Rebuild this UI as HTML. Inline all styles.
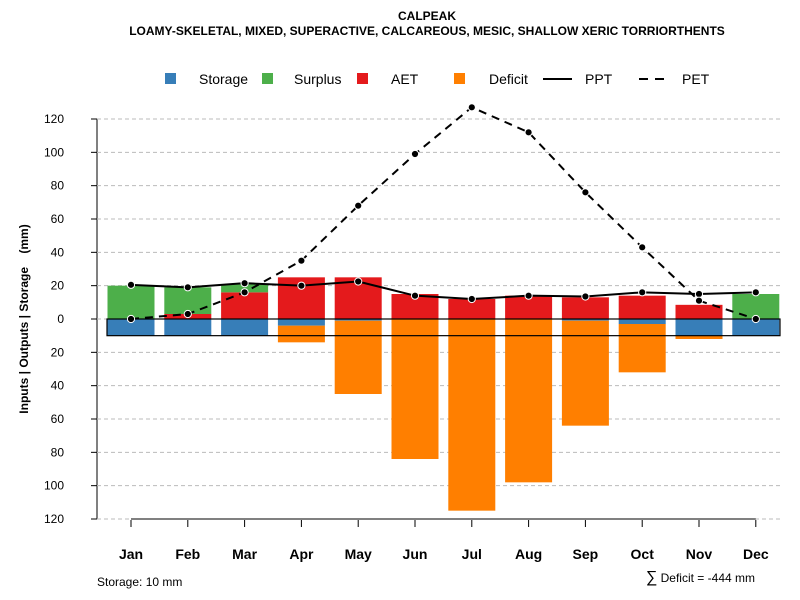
<!DOCTYPE html>
<html><head><meta charset="utf-8"><style>
body{margin:0;background:#fff}
svg{display:block;font-family:"Liberation Sans",Arial,sans-serif}
</style></head><body>
<svg id="c" width="800" height="600" viewBox="0 0 800 600">
<text x="427" y="20" text-anchor="middle" font-size="12" font-weight="bold">CALPEAK</text>
<text x="427" y="35" text-anchor="middle" font-size="12" font-weight="bold">LOAMY-SKELETAL, MIXED, SUPERACTIVE, CALCAREOUS, MESIC, SHALLOW XERIC TORRIORTHENTS</text>
<g id="legend" font-size="14">
<rect x="165" y="73" width="11" height="11" fill="#377EB8"/>
<text x="199" y="84">Storage</text>
<rect x="262" y="73" width="11" height="11" fill="#4DAF4A"/>
<text x="294" y="84">Surplus</text>
<rect x="357" y="73" width="11" height="11" fill="#E41A1C"/>
<text x="391" y="84">AET</text>
<rect x="454" y="73" width="11" height="11" fill="#FF7F00"/>
<text x="489" y="84">Deficit</text>
<line x1="543" y1="79" x2="572" y2="79" stroke="#000" stroke-width="2"/>
<text x="585" y="84">PPT</text>
<line x1="639" y1="79" x2="666" y2="79" stroke="#000" stroke-width="2" stroke-dasharray="9,7"/>
<text x="682" y="84">PET</text>
</g>
<text transform="translate(28,319) rotate(-90)" text-anchor="middle" font-size="12" font-weight="bold">Inputs | Outputs | Storage&#160;&#160;&#160;&#160;(mm)</text>
<text x="97" y="586" font-size="12">Storage: 10 mm</text>
<text x="755" y="582" text-anchor="end" font-size="12"><tspan font-size="16">∑</tspan> Deficit = -444 mm</text>
<g id="plot"></g>
</svg>
<script>
const months=["Jan","Feb","Mar","Apr","May","Jun","Jul","Aug","Sep","Oct","Nov","Dec"];
const storage=[10,10,10,4,1,0,0,0,1,3,10,10];
const surplus=[20,16,5,0,0,0,0,0,0,0,0,15];
const aet=[0,3,16,25,25,15,12,14,13,14,8.5,0];
const deficit=[0,0,0,10,44,84,115,98,63,29,2,0];
const ppt=[20.5,19,21.5,20,22.5,14,12,14,13.5,16,15,16];
const pet=[0,3,16,35,68,99,127,112,76,43,11,0];
const yTicks=[120,100,80,60,40,20,0,20,40,60,80,100,120];
const yTickVals=[120,100,80,60,40,20,0,-20,-40,-60,-80,-100,-120];
const storageCap=10;

const NS="http://www.w3.org/2000/svg";
const g=document.getElementById("plot");
const y=v=>319-v*(200/120);
const x=i=>131+i*56.8;
const bw=47;
function mk(t,a,p){const e=document.createElementNS(NS,t);for(const k in a)e.setAttribute(k,a[k]);(p||g).appendChild(e);return e;}
const ya=mk("line",{x1:97,y1:y(120),x2:97,y2:y(-120),stroke:"#000"});


yTickVals.forEach((v,i)=>{
  const gl=mk("line",{x1:97,x2:780,y1:y(v),y2:y(v),stroke:"#bbb","stroke-dasharray":"4,3"});
  
  
  const tk=mk("line",{x1:91,x2:97,y1:y(v),y2:y(v),stroke:"#000"});
  
  
  const t=mk("text",{x:64,y:y(v)+4,"text-anchor":"end","font-size":12});
  t.textContent=yTicks[i];
  
  
});
const xa=mk("line",{x1:x(0),x2:x(11),y1:y(-120),y2:y(-120),stroke:"#000"});


months.forEach((m,i)=>{
  const tk=mk("line",{x1:x(i),x2:x(i),y1:520,y2:527,stroke:"#000"});
  
  
  const t=mk("text",{x:x(i),y:559,"text-anchor":"middle","font-size":14,"font-weight":"bold"});
  t.textContent=m;
  
  
});
months.forEach((m,i)=>{
  const bx=x(i)-bw/2;
  const sr=mk("rect",{x:bx,y:y(0),width:bw,height:y(-storage[i])-y(0),fill:"#377EB8"});
  
  
  const dr=mk("rect",{x:bx,y:y(-storage[i]),width:bw,height:y(-storage[i]-deficit[i])-y(-storage[i]),fill:"#FF7F00"});
  
  
  const ar=mk("rect",{x:bx,y:y(aet[i]),width:bw,height:y(0)-y(aet[i]),fill:"#E41A1C"});
  
  
  const su=mk("rect",{x:bx,y:y(aet[i]+surplus[i]),width:bw,height:y(aet[i])-y(aet[i]+surplus[i]),fill:"#4DAF4A"});
  
  
});
const box=mk("rect",{x:107,y:y(0),width:673,height:y(-storageCap)-y(0),fill:"none",stroke:"#000","stroke-width":1.2});


function series(vals,name,dash){
  const pl=mk("polyline",{points:vals.map((v,i)=>x(i)+","+y(v)).join(" "),fill:"none",stroke:"#000","stroke-width":2});
  if(dash)pl.setAttribute("stroke-dasharray","8,6");
  
  
  vals.forEach((v,i)=>{
    const c=mk("circle",{cx:x(i),cy:y(v),r:3.6,fill:"#000",stroke:"#fff","stroke-width":1});
    
    
  });
}
series(ppt,"ppt",false);
series(pet,"pet",true);
</script>
</body></html>
